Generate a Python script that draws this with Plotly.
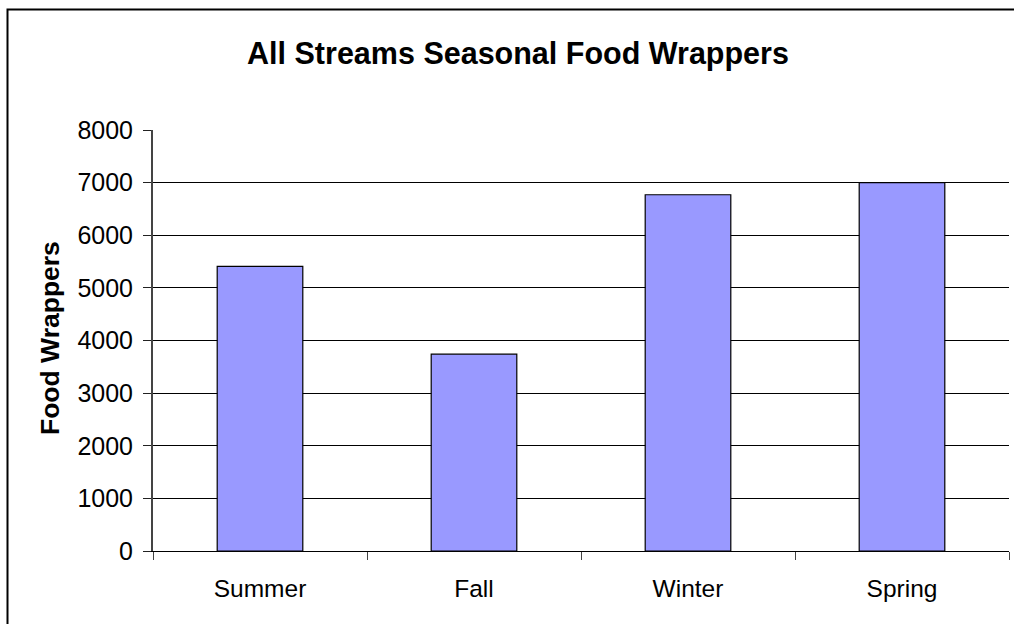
import plotly.graph_objects as go

# Seasonal totals of food wrappers collected across all streams
seasons = ["Summer", "Fall", "Winter", "Spring"]
wrappers = [5410, 3740, 6770, 7000]
y_ticks = [0, 1000, 2000, 3000, 4000, 5000, 6000, 7000, 8000]

FONT = "Liberation Sans, Arial, sans-serif"
W, H = 1014, 624
L, R, T, B = 153, 5, 130, 73
pw, ph = W - L - R, H - T - B


def px_x(x):
    return (x - L) / pw


def px_y(y):
    return (H - B - y) / ph


fig = go.Figure(
    go.Bar(
        x=seasons,
        y=wrappers,
        marker=dict(color="#9999FF", line=dict(color="#000000", width=1.2)),
        width=0.4,
    )
)

fig.update_layout(
    width=W,
    height=H,
    margin=dict(l=L, r=R, t=T, b=B),
    paper_bgcolor="white",
    plot_bgcolor="white",
    showlegend=False,
    font=dict(family=FONT, color="black"),
    title=dict(
        text="<b>All Streams Seasonal Food Wrappers</b>",
        font=dict(family=FONT, size=30.5, color="black"),
        x=518 / W,
        xanchor="center",
        xref="container",
        y=1 - 53 / H,
        yanchor="middle",
        yref="container",
    ),
    xaxis=dict(
        showline=True,
        linecolor="black",
        linewidth=1,
        ticks="outside",
        tickson="boundaries",
        ticklen=8,
        tickcolor="#444444",
        tickfont=dict(family=FONT, size=24.5, color="black"),
        ticklabelstandoff=16,
        showgrid=False,
    ),
    yaxis=dict(
        range=[0, 8000],
        tickvals=y_ticks,
        ticktext=[str(v) for v in y_ticks],
        showline=True,
        linecolor="#444444",
        linewidth=2,
        ticks="outside",
        ticklen=8,
        tickcolor="#222222",
        tickfont=dict(family=FONT, size=25, color="black"),
        ticklabelstandoff=5,
        showgrid=True,
        gridcolor="#000000",
        gridwidth=1,
        zeroline=False,
    ),
    annotations=[
        dict(
            text="<b>Food Wrappers</b>",
            textangle=-90,
            x=px_x(50),
            y=px_y(338),
            xref="paper",
            yref="paper",
            showarrow=False,
            font=dict(family=FONT, size=26.5, color="black"),
            xanchor="center",
            yanchor="middle",
        )
    ],
    shapes=[
        dict(
            type="rect",
            xref="paper",
            yref="paper",
            x0=px_x(7.5),
            x1=px_x(1030),
            y0=px_y(640),
            y1=px_y(9.5),
            line=dict(color="black", width=2),
            fillcolor="rgba(0,0,0,0)",
            layer="below",
        )
    ],
)

fig.write_html("out.html")
